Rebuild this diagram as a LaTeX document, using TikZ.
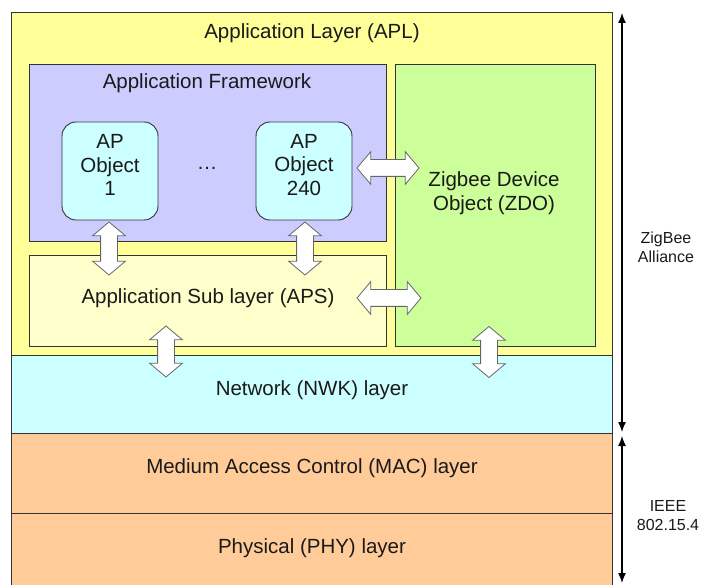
\documentclass[tikz,border=0pt]{standalone}
\usepackage{fontspec}
\setmainfont{Liberation Sans}
\usetikzlibrary{shapes.arrows, arrows.meta}
\definecolor{aplY}{HTML}{FFFF99}
\definecolor{fwP}{HTML}{CCCCFF}
\definecolor{zdoG}{HTML}{CCFF99}
\definecolor{apsY}{HTML}{FFFFCC}
\definecolor{objC}{HTML}{CCFFFF}
\definecolor{nwkC}{HTML}{CCFFFF}
\definecolor{macO}{HTML}{FFCC99}
\definecolor{edge}{HTML}{333333}
\definecolor{agray}{HTML}{666666}
\definecolor{txt}{HTML}{1A1A1A}
\begin{document}
\begin{tikzpicture}[x=1pt,y=-1pt,
  box/.style={draw=edge, line width=0.9pt, anchor=north west, inner sep=0pt, outer sep=0pt},
  obj/.style={box, fill=objC, rounded corners=14pt, minimum width=96pt, minimum height=98pt},
  lbl/.style={font=\fontsize{20.5}{23.5}\selectfont, text=txt, align=center, inner sep=0pt},
  side/.style={font=\fontsize{16}{19}\selectfont, text=txt, align=center, inner sep=0pt},
  barrow/.style={double arrow, draw=agray, fill=white, line width=0.8pt, minimum width=32pt,
    double arrow head extend=8pt, double arrow tip angle=100, inner sep=8pt, outer sep=0pt},
  varrow/.style={barrow, shape border rotate=90},
  span/.style={line width=1.3pt, {Latex[length=10pt,width=8pt]}-{Latex[length=10pt,width=8pt]}}
]
\useasboundingbox (0,0) rectangle (707,585);
% layers
\node[box, fill=aplY, minimum width=601pt, minimum height=343pt] (apl) at (11,12) {};
\node[box, fill=nwkC, minimum width=601pt, minimum height=78pt] (nwk) at (11,355) {};
\node[box, fill=macO, minimum width=601pt, minimum height=80pt] (mac) at (11,433) {};
\node[box, fill=macO, minimum width=601pt, minimum height=80pt] (phy) at (11,513) {};
% inner boxes
\node[box, fill=fwP, minimum width=357pt, minimum height=177pt] (fw) at (29,64) {};
\node[box, fill=zdoG, minimum width=200pt, minimum height=282pt] (zdo) at (395,64) {};
\node[box, fill=apsY, minimum width=357pt, minimum height=91pt] (aps) at (29,255) {};
\node[obj] (ap1) at (62,122) {};
\node[obj] (ap2) at (256,122) {};
% labels
\node[lbl] (aplT) at (312,33) {Application Layer (APL)};
\node[lbl] (fwT) at (207,83) {Application Framework};
\node[lbl] (ap1T) at (110,165) {AP\\Object\\1};
\node[lbl] (ap2T) at (304,165) {AP\\Object\\240};
\node[lbl] (dots) at (207,168) {\ldots};
\node[lbl] (zdoT) at (494,193) {Zigbee Device\\Object (ZDO)};
\node[lbl] (apsT) at (208,298) {Application Sub layer (APS)};
\node[lbl] (nwkT) at (312,390) {Network (NWK) layer};
\node[lbl] (macT) at (312,468) {Medium Access Control (MAC) layer};
\node[lbl] (phyT) at (312,548) {Physical (PHY) layer};
\node[side] (zbT) at (666,247) {ZigBee\\Alliance};
\node[side] (ieT) at (668,516) {IEEE\\802.15.4};
% block arrows
\node[varrow, minimum height=53pt] (a1) at (109,248.5) {};
\node[varrow, minimum height=53pt] (a2) at (305,248.5) {};
\node[barrow, minimum height=62pt] (a3) at (388,168) {};
\node[barrow, minimum height=64pt] (a4) at (389,298) {};
\node[varrow, minimum height=51pt] (a5) at (166,351.5) {};
\node[varrow, minimum height=51pt] (a6) at (489,352) {};
% span arrows
\coordinate (zt) at (622,13);
\coordinate (zb) at (622,432);
\coordinate (it) at (622,436);
\coordinate (ib) at (622,583);
\draw[span] (zt) -- (zb);
\draw[span] (it) -- (ib);
\end{tikzpicture}
\end{document}
